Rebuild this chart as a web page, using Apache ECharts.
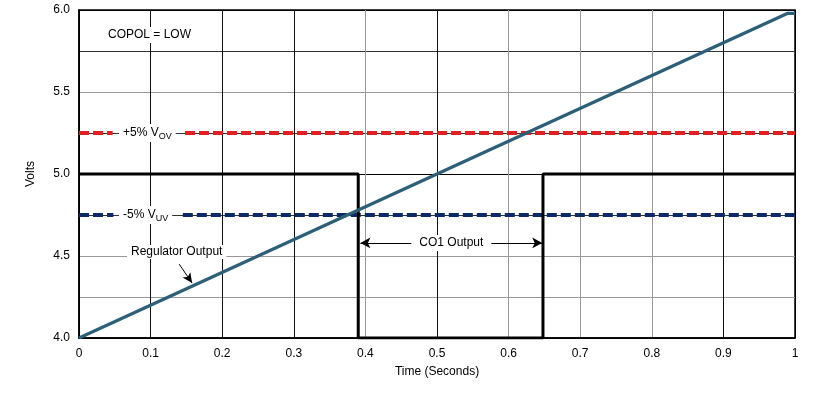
<!DOCTYPE html>
<html>
<head>
<meta charset="utf-8">
<script src="https://cdn.jsdelivr.net/npm/echarts@6/dist/echarts.min.js"></script>
<style>
  html, body { margin: 0; padding: 0; background: #fff; }
  #main { width: 826px; height: 399px; }
</style>
</head>
<body>
<div id="main"></div>
<script>
// regulator output ramp
var regX = [0, 0.99, 1];
var regY = [4.0, 5.98, 5.98];
// CO1 output
var coX = [0, 0.39, 0.39, 0.648, 0.648, 1];
var coY = [5.0, 5.0, 4.0, 4.0, 5.0, 5.0];
// thresholds (gap left for the label)
var ovX = [0, 0.047, null, 0.148, 1];
var ovY = [5.25, 5.25, null, 5.25, 5.25];
var uvX = [0, 0.048, null, 0.145, 1];
var uvY = [4.75, 4.75, null, 4.75, 4.75];

function pairs(xs, ys) {
  return xs.map(function (x, i) { return x === null ? null : [x, ys[i]]; });
}

var font = 'Liberation Sans, Arial, sans-serif';
var myChart = echarts.init(document.getElementById('main'));

myChart.setOption({
  animation: false,
  textStyle: { fontFamily: font },
  grid: { left: 79, right: 31, top: 10, bottom: 61, show: true, borderColor: '#000', borderWidth: 1.5 },
  xAxis: {
    type: 'value', min: 0, max: 1, interval: 0.1,
    name: 'Time (Seconds)', nameLocation: 'middle', nameGap: 28,
    nameTextStyle: { color: '#000', fontSize: 12, fontFamily: font },
    axisLine: { lineStyle: { color: '#000', width: 1.5 } },
    axisTick: { show: false },
    axisLabel: { color: '#000', fontSize: 12, margin: 10 },
    splitLine: { lineStyle: { color: ['#000', '#111', '#111', '#111', '#999', '#111', '#999', '#999', '#999', '#111', '#000'], width: 1 } }
  },
  yAxis: {
    type: 'value', min: 4, max: 6, interval: 0.25,
    name: 'Volts', nameLocation: 'middle', nameGap: 42,
    nameTextStyle: { color: '#000', fontSize: 12, fontFamily: font },
    axisLine: { lineStyle: { color: '#000', width: 1.5 } },
    axisTick: { show: false },
    axisLabel: {
      color: '#000', fontSize: 12, margin: 9,
      formatter: function (v) { return Math.round(v * 100) % 50 === 0 ? v.toFixed(1) : ''; }
    },
    splitLine: { lineStyle: { color: ['#000', '#999', '#999', '#333', '#000', '#333', '#999', '#333', '#000'], width: 1 } }
  },
  series: [
    {
      type: 'line', data: pairs(ovX, ovY), symbol: 'none', connectNulls: false,
      lineStyle: { color: '#e41f22', width: 4, type: [10, 4] }, z: 3
    },
    {
      type: 'line', data: pairs(uvX, uvY), symbol: 'none', connectNulls: false,
      lineStyle: { color: '#0b2a66', width: 4, type: [10, 4] }, z: 3
    },
    {
      type: 'line', data: pairs(coX, coY), symbol: 'none',
      lineStyle: { color: '#000', width: 3 }, z: 4,
      markLine: {
        silent: true, symbol: ['arrow', 'arrow'], symbolSize: [8, 10],
        lineStyle: { color: '#000', width: 1, type: 'solid' },
        label: {
          show: true, position: 'insideMiddle', formatter: 'CO1 Output', color: '#000',
          fontSize: 12, fontFamily: font, backgroundColor: '#fff', padding: [2, 8], distance: 0
        },
        data: [[{ coord: [0.393, 4.58] }, { coord: [0.647, 4.58] }]]
      }
    },
    {
      type: 'line', data: pairs(regX, regY), symbol: 'none',
      lineStyle: { color: '#2c5f78', width: 3.2 }, z: 5,
      markLine: {
        silent: true, symbol: ['none', 'arrow'], symbolSize: [7, 10],
        lineStyle: { color: '#000', width: 1, type: 'solid' },
        label: { show: false },
        data: [[{ coord: [0.14, 4.45] }, { coord: [0.158, 4.335] }]]
      }
    }
  ],
  graphic: [
    {
      type: 'text', left: 104, top: 27, z: 10,
      style: { text: 'COPOL = LOW', fill: '#000', font: '12px ' + font, backgroundColor: '#fff', padding: [2, 4] }
    },
    {
      type: 'text', left: 119, top: 124, z: 10,
      style: {
        text: '{n|+5% V}{s|OV}', backgroundColor: '#fff', padding: [0, 4],
        rich: {
          n: { fontSize: 12, fontFamily: font, fill: '#000', lineHeight: 18 },
          s: { fontSize: 9, fontFamily: font, fill: '#000', lineHeight: 18, padding: [7, 0, 0, 0] }
        }
      }
    },
    {
      type: 'text', left: 119, top: 206, z: 10,
      style: {
        text: '{n|-5% V}{s|UV}', backgroundColor: '#fff', padding: [0, 4],
        rich: {
          n: { fontSize: 12, fontFamily: font, fill: '#000', lineHeight: 18 },
          s: { fontSize: 9, fontFamily: font, fill: '#000', lineHeight: 18, padding: [7, 0, 0, 0] }
        }
      }
    },
    {
      type: 'text', left: 127, top: 245, z: 10,
      style: { text: 'Regulator Output', fill: '#000', font: '12px ' + font, backgroundColor: '#fff', padding: [1, 4] }
    }
  ]
});
</script>
</body>
</html>
